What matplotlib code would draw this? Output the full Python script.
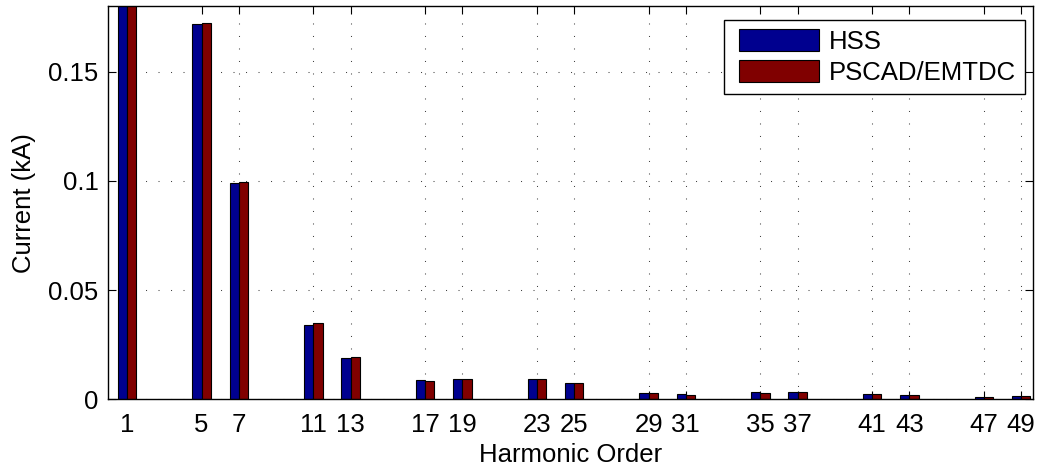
import matplotlib
matplotlib.use("Agg")
import matplotlib.pyplot as plt
from matplotlib.patches import Rectangle
from matplotlib.legend_handler import HandlerPatch
import numpy as np

orders = [1, 5, 7, 11, 13, 17, 19, 23, 25, 29, 31, 35, 37, 41, 43, 47, 49]
hss = [0.205, 0.1717, 0.0992, 0.0342, 0.0189, 0.0087, 0.0096, 0.0093, 0.0077,
       0.0031, 0.0023, 0.0033, 0.0035, 0.0026, 0.0020, 0.0012, 0.0017]
pscad = [0.205, 0.1723, 0.0997, 0.0348, 0.0193, 0.0084, 0.0094, 0.0093, 0.0077,
         0.0029, 0.0021, 0.0032, 0.0033, 0.0026, 0.0020, 0.0011, 0.0014]
series_names = ["HSS", "PSCAD/EMTDC"]
yticks = [0, 0.05, 0.1, 0.15]
ytick_labels = ["0", "0.05", "0.1", "0.15"]

plt.rcParams['font.family'] = ['Liberation Sans', 'DejaVu Sans']
FS = 18.5

fig = plt.figure(figsize=(10.42, 4.73), dpi=100)
ax = fig.add_axes([0.1041, 0.1554, 0.8875, 0.8319])

x = np.array(orders, dtype=float)
w = 0.5
b1 = ax.bar(x - w / 2, hss, width=w, color='#00008F', edgecolor='black',
            linewidth=0.8, zorder=2)
b2 = ax.bar(x + w / 2, pscad, width=w, color='#800000', edgecolor='black',
            linewidth=0.8, zorder=2)

ax.set_xlim(0, 49.65)
ax.set_ylim(0, 0.18)
ax.set_xticks(orders)
ax.set_xticklabels([str(o) for o in orders], fontsize=FS)
ax.set_yticks(yticks)
ax.set_yticklabels(ytick_labels, fontsize=FS)

ax.set_axisbelow(True)
ax.grid(True, color='#444444', linewidth=0.75, linestyle=(0, (1, 11)))

ax.tick_params(direction='in', length=6, width=0.8, top=True, right=True,
               colors='black')
ax.tick_params(axis='x', pad=10)
ax.tick_params(axis='y', pad=7)
for s in ax.spines.values():
    s.set_linewidth(1.0)
    s.set_color('black')

ax.set_xlabel("Harmonic Order", fontsize=FS, labelpad=4)
ax.set_ylabel("Current (kA)", fontsize=FS, labelpad=9)


def shifted_patch(legend, orig_handle, xdescent, ydescent, width, height,
                  fontsize):
    shift = 0.26 * fontsize
    return Rectangle((-xdescent + shift, -ydescent), width - shift, height)


handler = HandlerPatch(patch_func=shifted_patch)
handles = [b1.patches[0], b2.patches[0]]
leg = ax.legend(handles, series_names, loc='upper right',
                bbox_to_anchor=(1 - 8 / 925, 1 - 14 / 394),
                borderaxespad=0, fontsize=FS, frameon=True, fancybox=False,
                edgecolor='black', framealpha=1, handlelength=3.36,
                handleheight=0.95, labelspacing=0.25, borderpad=0.35,
                handletextpad=0.4,
                handler_map={h: handler for h in handles})
leg.get_frame().set_linewidth(1.0)

fig.savefig("out.png", dpi=100)
